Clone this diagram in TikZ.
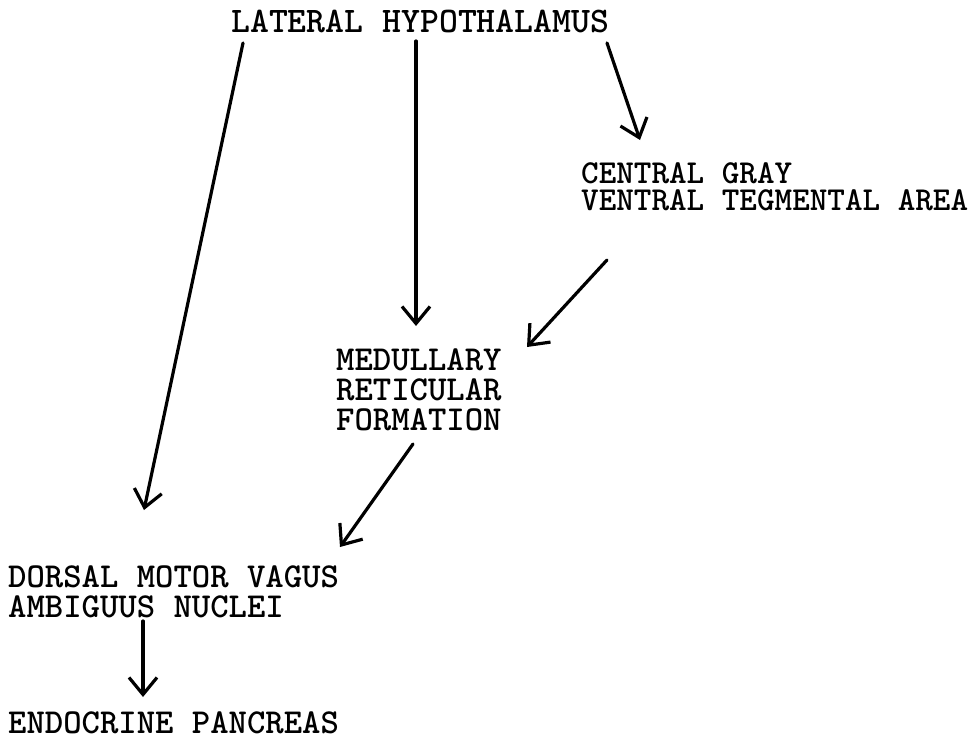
\documentclass[tikz,border=0pt]{standalone}
\usepackage{fontspec}
\newfontfamily\twfont{lmmonolt10-bold.otf}
\usetikzlibrary{arrows.meta}
\begin{document}
\begin{tikzpicture}[x=1pt,y=-1pt,
  lbl/.style={inner sep=0pt, anchor=base west, align=left,
    font=\twfont\fontsize{35}{30}\selectfont},
  arr/.style={line width=3.2pt, line cap=round,
    -{Straight Barb[length=17pt,width=28pt,line width=3.2pt]}}]
\useasboundingbox (0,0) rectangle (980,736);
\fill[white] (0,0) rectangle (980,736);
% nodes (base anchor = baseline of the last line)
\node[lbl,font=\twfont\fontsize{36}{30}\selectfont] (lh) at (231,32) {LATERAL HYPOTHALAMUS};
\node[lbl,font=\twfont\fontsize{33.5}{27}\selectfont] (cg) at (581,210) {CENTRAL GRAY\\VENTRAL TEGMENTAL AREA};
\node[lbl] (mrf) at (336,430) {MEDULLARY\\RETICULAR\\FORMATION};
\node[lbl] (dmv) at (8,617) {DORSAL MOTOR VAGUS\\AMBIGUUS NUCLEI};
\node[lbl] (ep) at (8,733) {ENDOCRINE PANCREAS};
% connector ends
\coordinate (a1s) at (243,43);  \coordinate (a1e) at (144,510);
\coordinate (a2s) at (416,41);  \coordinate (a2e) at (416,326);
\coordinate (a3s) at (607,43);  \coordinate (a3e) at (640,140);
\coordinate (a4s) at (607,260); \coordinate (a4e) at (527,347);
\coordinate (a5s) at (413,444); \coordinate (a5e) at (340,547);
\coordinate (a6s) at (143,621); \coordinate (a6e) at (143,697);
\draw[arr] (a1s) -- (a1e);
\draw[arr] (a2s) -- (a2e);
\draw[arr] (a3s) -- (a3e);
\draw[arr] (a4s) -- (a4e);
\draw[arr] (a5s) -- (a5e);
\draw[arr] (a6s) -- (a6e);
\end{tikzpicture}
\end{document}
